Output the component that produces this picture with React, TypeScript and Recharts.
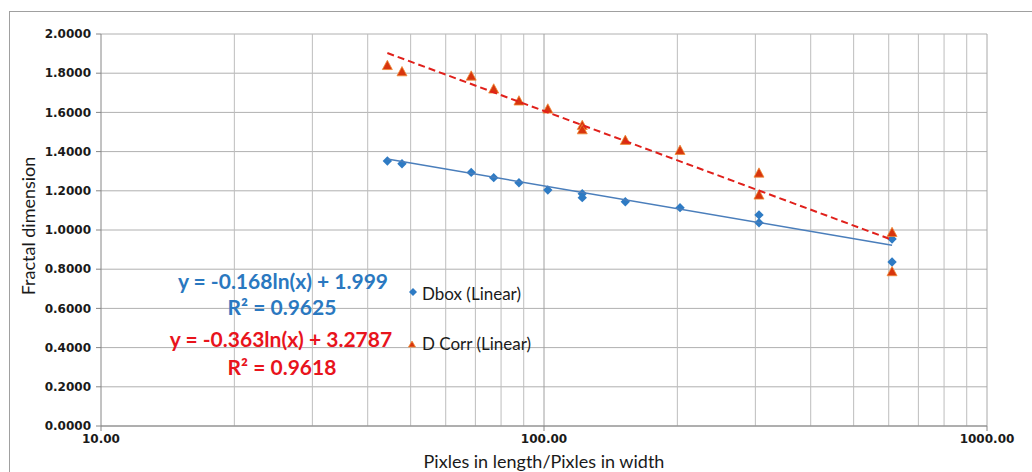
import React from 'react';
import { ScatterChart, Scatter, XAxis, YAxis, CartesianGrid, ReferenceLine, Label } from 'recharts';

// Measured points (x on log scale)
const sampleX = [44.3, 47.8, 68.5, 77.0, 87.8, 102, 122, 122, 152.6, 202.8, 305.7, 305.7, 610.5, 610.5];
const dboxY = [1.352, 1.338, 1.294, 1.267, 1.241, 1.204, 1.185, 1.165, 1.144, 1.114, 1.077, 1.037, 0.954, 0.837];
const dcorrY = [1.838, 1.806, 1.784, 1.718, 1.657, 1.616, 1.532, 1.510, 1.456, 1.405, 1.289, 1.177, 0.986, 0.786];

// Trendline end points
const trendX = [44.3, 610.5];
const dboxTrendY = [1.362, 0.922];
const dcorrTrendY = [1.903, 0.950];

const xTicks = [10, 100, 1000];
const xGridValues = [20, 30, 40, 50, 60, 70, 80, 90, 200, 300, 400, 500, 600, 700, 800, 900, 1000];
const yTicks = [0, 0.2, 0.4, 0.6, 0.8, 1.0, 1.2, 1.4, 1.6, 1.8, 2.0];

const dboxData = sampleX.map((x, i) => ({ x, y: dboxY[i] }));
const dcorrData = sampleX.map((x, i) => ({ x, y: dcorrY[i] }));
const dboxTrend = trendX.map((x, i) => ({ x, y: dboxTrendY[i] }));
const dcorrTrend = trendX.map((x, i) => ({ x, y: dcorrTrendY[i] }));

const BLUE = '#2e7bc4';
const RED = '#d8350e';

const Diamond = (p: any) => {
  const { cx, cy } = p;
  const r = 4.7;
  return <polygon points={`${cx},${cy - r} ${cx + r},${cy} ${cx},${cy + r} ${cx - r},${cy}`} fill={BLUE} />;
};

const Triangle = (p: any) => {
  const { cx, cy } = p;
  return (
    <polygon
      points={`${cx},${cy - 5.5} ${cx + 5},${cy + 3.8} ${cx - 5},${cy + 3.8}`}
      fill={RED}
      stroke="#ef8a35"
      strokeWidth={0.8}
    />
  );
};

const NoShape = () => <g />;

const tickStyle = { fontSize: 12, fontWeight: 'bold', fill: '#1a1a1a', fontFamily: 'DejaVu Sans' } as any;

const eqStyle: React.CSSProperties = {
  position: 'absolute',
  fontFamily: 'Lato',
  fontWeight: 'bold',
  fontSize: 21,
  whiteSpace: 'nowrap',
  transform: 'translate(-50%, -50%)',
  lineHeight: 1,
};

const legText: React.CSSProperties = {
  position: 'absolute',
  fontFamily: 'Lato',
  fontSize: 17,
  color: '#1a1a1a',
  whiteSpace: 'nowrap',
  transform: 'translateY(-50%)',
  lineHeight: 1,
};

export default function App() {
  return (
    <div style={{ position: 'fixed', left: 0, top: 0, width: 1032, height: 472, overflow: 'hidden', background: '#fff' }}>
      <div style={{ position: 'absolute', left: 9, top: 11, width: 1100, height: 600, border: '1px solid #a0a0a0' }} />
      <div style={{ position: 'absolute', left: 0, top: 0 }}>
        <ScatterChart width={1032} height={472} margin={{ top: 34, right: 45, bottom: 0, left: 0 }}>
          <CartesianGrid vertical={false} stroke="#b0b0b0" />
          {xGridValues.map((v) => (
            <ReferenceLine key={v} x={v} stroke={v === 1000 ? '#a8a8a8' : '#bdbdbd'} strokeWidth={1} />
          ))}
          <ReferenceLine x={100} stroke="#a0a0a0" strokeWidth={1} />
          <XAxis
            type="number"
            dataKey="x"
            scale="log"
            domain={[10, 1000]}
            ticks={xTicks}
            interval={0}
            allowDataOverflow
            height={46}
            tickFormatter={(v: number) => v.toFixed(2)}
            tick={tickStyle}
            tickSize={5}
            tickMargin={3}
            axisLine={{ stroke: '#868686' }}
            tickLine={{ stroke: '#868686' }}
          >
            <Label
              content={(props: any) => {
                const vb = props.viewBox;
                return (
                  <text x={vb.x + vb.width / 2} y={vb.y + 42} textAnchor="middle" fontFamily="Lato" fontSize={18} fill="#1a1a1a">
                    Pixles in length/Pixles in width
                  </text>
                );
              }}
            />
          </XAxis>
          <YAxis
            type="number"
            dataKey="y"
            domain={[0, 2]}
            ticks={yTicks}
            interval={0}
            width={101}
            tickFormatter={(v: number) => v.toFixed(4)}
            tick={tickStyle}
            tickSize={5}
            tickMargin={5}
            axisLine={{ stroke: '#868686' }}
            tickLine={{ stroke: '#868686' }}
          >
            <Label
              content={(props: any) => {
                const vb = props.viewBox;
                const cy = vb.y + vb.height / 2 - 4;
                return (
                  <text x={35} y={cy} transform={`rotate(-90, 35, ${cy})`} textAnchor="middle" fontFamily="Lato" fontSize={18} fill="#1a1a1a">
                    Fractal dimension
                  </text>
                );
              }}
            />
          </YAxis>
          <Scatter name="Dbox" data={dboxData} shape={Diamond} isAnimationActive={false} />
          <Scatter name="D Corr" data={dcorrData} shape={Triangle} isAnimationActive={false} />
          <Scatter
            name="Dbox (Linear)"
            data={dboxTrend}
            shape={NoShape}
            line={{ stroke: '#4a7ebb', strokeWidth: 1.5 }}
            isAnimationActive={false}
          />
          <Scatter
            name="D Corr (Linear)"
            data={dcorrTrend}
            shape={NoShape}
            line={{ stroke: '#e0201b', strokeWidth: 2, strokeDasharray: '7 4' }}
            isAnimationActive={false}
          />
        </ScatterChart>
      </div>
      <div style={{ ...eqStyle, left: 283, top: 280, color: '#2a78c0' }}>y = -0.168ln(x) + 1.999</div>
      <div style={{ ...eqStyle, left: 282, top: 306, color: '#2a78c0' }}>R² = 0.9625</div>
      <div style={{ ...eqStyle, left: 281, top: 338, color: '#e8141c' }}>y = -0.363ln(x) + 3.2787</div>
      <div style={{ ...eqStyle, left: 282, top: 366, color: '#e8141c' }}>R² = 0.9618</div>
      <svg style={{ position: 'absolute', left: 0, top: 0, pointerEvents: 'none' }} width={1032} height={472}>
        <polygon points="413,288 417,292 413,296 409,292" fill={BLUE} />
        <polygon points="412,341 415.5,347 408.5,347" fill={RED} stroke="#ef8a35" strokeWidth={0.8} />
      </svg>
      <div style={{ ...legText, left: 422, top: 293 }}>Dbox (Linear)</div>
      <div style={{ ...legText, left: 422, top: 343 }}>D Corr (Linear)</div>
    </div>
  );
}
